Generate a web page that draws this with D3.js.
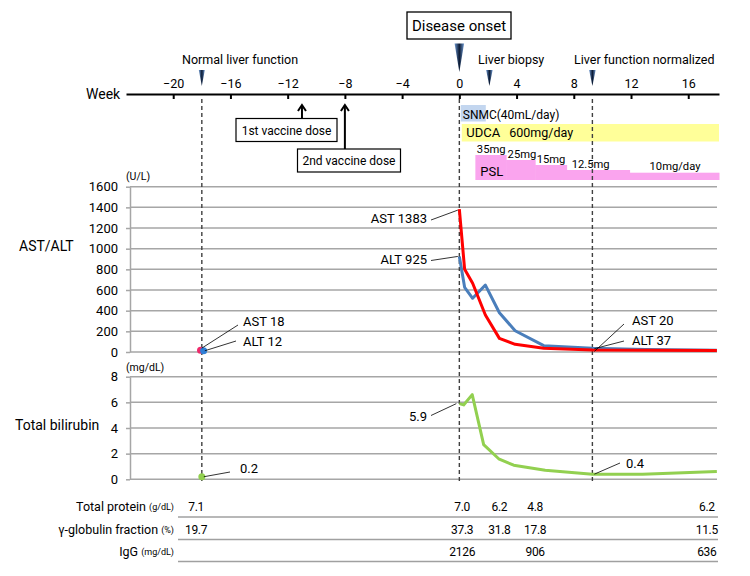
<!DOCTYPE html>
<html><head><meta charset="utf-8">
<script src="https://cdn.jsdelivr.net/npm/d3@7"></script>
<style>
body{margin:0;background:#fff;}
svg{display:block;}
text{font-family:Roboto,"Noto Sans",sans-serif;fill:#000;}
</style></head>
<body>
<script>
// ---------------- DATA ----------------
const weekTicks = [-20, -16, -12, -8, -4, 0, 4, 8, 12, 16];
const astWeeks = [0, 0.37, 0.93, 1.82, 2.8, 3.9, 5.9, 9.3, 13, 18];
const astValues = [1383, 800, 665, 358, 132, 74, 36, 20, 16, 14];
const altValues = [925, 626, 520, 648, 380, 206, 61, 37, 24, 18];
const baselineWeek = -18;
const baselineAST = 18;
const baselineALT = 12;
const bilWeeks = [0, 0.3, 0.9, 1.7, 2.75, 3.8, 6, 9.3, 12.8, 18];
const bilValues = [5.9, 5.8, 6.6, 2.7, 1.6, 1.1, 0.7, 0.4, 0.4, 0.6];
const baselineBil = 0.2;
const astTicks = [0, 200, 400, 600, 800, 1000, 1200, 1400, 1600];
const bilTicks = [0, 2, 4, 6, 8];
const events = [
  {week: -18, label: "Normal liver function"},
  {week: 0, label: "Disease onset"},
  {week: 2.1, label: "Liver biopsy"},
  {week: 9.3, label: "Liver function normalized"}
];
const vaccines = [{week: -11, label: "1st vaccine dose"}, {week: -8, label: "2nd vaccine dose"}];
const snmc = {start: 0.1, end: 1.85, label: "SNMC(40mL/day)"};
const udca = {start: 0.17, end: 18.15, label: "UDCA", dose: "600mg/day"};
const pslStarts = [1.12, 3.27, 5.3, 7.5, 11.9];
const pslEnd = 18.15;
const pslDoses = [35, 25, 15, 12.5, 10];
const pslLabels = ["35mg", "25mg", "15mg", "12.5mg", "10mg/day"];
const tableRows = ["Total protein", "γ-globulin fraction", "IgG"];
const tableUnits = ["(g/dL)", "(%)", "(mg/dL)"];
const tableWeeks = [-18.4, 0.2, 2.8, 5.3, 17.3];
const tableValues = [
  ["7.1", "7.0", "6.2", "4.8", "6.2"],
  ["19.7", "37.3", "31.8", "17.8", "11.5"],
  ["", "2126", "", "906", "636"]
];

// ---------------- LAYOUT ----------------
const W = 750, H = 576;
const svg = d3.select("body").append("svg").attr("width", W).attr("height", H);
const defs = svg.append("defs");
const grad = defs.append("linearGradient").attr("id", "mk").attr("x1", "0").attr("x2", "1").attr("y1", "0").attr("y2", "0");
grad.append("stop").attr("offset", "0%").attr("stop-color", "#6d97cf");
grad.append("stop").attr("offset", "50%").attr("stop-color", "#0b1a33");
grad.append("stop").attr("offset", "100%").attr("stop-color", "#6d97cf");

const x = d3.scaleLinear().domain([-23.3, 18.15]).range([126, 719]);
const gridL = 130, gridR = 717;
const axisY = 94;
const yA = d3.scaleLinear().domain([0, 1600]).range([352, 186.7]);
const yB = d3.scaleLinear().domain([0, 8]).range([479.3, 376.7]);

// top axis
const topAxis = d3.axisTop(x).tickValues(weekTicks).tickSize(-5).tickSizeOuter(0).tickPadding(6);
const gT = svg.append("g").attr("transform", `translate(0,${axisY})`).call(topAxis);
gT.select(".domain").attr("stroke", "#000").attr("stroke-width", 2);
gT.selectAll(".tick line").attr("stroke", "#000").attr("stroke-width", 2);
gT.selectAll(".tick text").attr("font-size", 12.5).attr("font-family", "Roboto, sans-serif").attr("fill", "#000");
svg.append("text").attr("x", 86).attr("y", 99).attr("font-size", 14).text("Week");

// grids
function panel(yS, ticks, unit, unitY, title, titleY, titleX) {
  const g = svg.append("g");
  g.selectAll("line.grid").data(ticks).join("line")
    .attr("x1", gridL).attr("x2", gridR).attr("y1", d => yS(d)).attr("y2", d => yS(d))
    .attr("stroke", "#a6a6a6").attr("stroke-width", 1.5);
  const ax = d3.axisLeft(yS).tickValues(ticks).tickFormat(d3.format("d")).tickSize(4).tickSizeOuter(0).tickPadding(8);
  const ga = g.append("g").attr("transform", `translate(${gridL},0)`).call(ax);
  ga.select(".domain").attr("stroke", "#a6a6a6").attr("stroke-width", 1.5);
  ga.selectAll(".tick line").attr("stroke", "#a6a6a6").attr("stroke-width", 1.5);
  ga.selectAll(".tick text").attr("font-size", 13).attr("font-family", "Roboto, sans-serif").attr("fill", "#000");
  g.append("text").attr("x", 126).attr("y", unitY).attr("font-size", 10.5).attr("dominant-baseline", "middle").text(unit);
  g.append("text").attr("x", titleX).attr("y", titleY).attr("font-size", 14).attr("dominant-baseline", "middle").text(title);
}
panel(yA, astTicks, "(U/L)", 177, "AST/ALT", 247.5, 19);
panel(yB, bilTicks, "(mg/dL)", 368.5, "Total bilirubin", 426, 15);

// treatment bars
svg.append("rect").attr("x", x(snmc.start)).attr("width", x(snmc.end) - x(snmc.start))
  .attr("y", 105).attr("height", 16.5).attr("fill", "#c3d6ef");
svg.append("text").attr("x", x(snmc.start) + 2).attr("y", 118.5).attr("font-size", 12).text(snmc.label);
svg.append("rect").attr("x", x(udca.start)).attr("width", x(udca.end) - x(udca.start))
  .attr("y", 124).attr("height", 17.5).attr("fill", "#ffff99");
svg.append("text").attr("x", x(udca.start) + 4.5).attr("y", 137).attr("font-size", 13).text(udca.label);
svg.append("text").attr("x", x(udca.start) + 47.5).attr("y", 137).attr("font-size", 12.5).text(udca.dose);

const pslBottom = 180;
const pslH = d3.scaleLinear().domain([10, 12.5, 15, 25, 35]).range([7.3, 10, 15, 20, 25]);
const pslData = pslStarts.map((s, i) => ({start: s, end: i < pslStarts.length - 1 ? pslStarts[i + 1] : pslEnd, dose: pslDoses[i], label: pslLabels[i]}));
svg.selectAll("rect.psl").data(pslData).join("rect")
  .attr("x", d => x(d.start)).attr("width", d => x(d.end) - x(d.start) + 0.5)
  .attr("y", d => pslBottom - pslH(d.dose)).attr("height", d => pslH(d.dose))
  .attr("fill", "#faa4ee");
const pslLabelDx = [1.5, 1.5, 1.5, 5, 20];
svg.selectAll("text.psl").data(pslData).join("text")
  .attr("x", (d, i) => x(d.start) + pslLabelDx[i]).attr("y", d => pslBottom - pslH(d.dose) - 2.5)
  .attr("font-size", 11.2).text(d => d.label);
svg.append("text").attr("x", x(pslStarts[0]) + 5).attr("y", 176).attr("font-size", 13).attr("fill", "#3a1040").text("PSL");

// dashed lines
const dashWeeks = [events[0].week, events[1].week, events[3].week];
svg.selectAll("line.dash").data(dashWeeks).join("line")
  .attr("x1", d => x(d)).attr("x2", d => x(d)).attr("y1", 99).attr("y2", 481)
  .attr("stroke", "#404040").attr("stroke-width", 1.4).attr("stroke-dasharray", "4,3");

// event markers
function marker(wk, top, w, h) {
  const cx = x(wk);
  svg.append("path").attr("d", `M${cx - w / 2},${top} L${cx + w / 2},${top} L${cx},${top + h} Z`)
    .attr("fill", "url(#mk)");
}
marker(events[0].week, 70, 6, 16);
marker(events[1].week, 43.5, 9.5, 28.5);
marker(events[2].week, 70, 6.5, 16);
marker(events[3].week, 70, 6.5, 16);
svg.append("text").attr("x", 182).attr("y", 64).attr("font-size", 12.5).text(events[0].label);
svg.append("text").attr("x", 478).attr("y", 64).attr("font-size", 12.5).text(events[2].label);
svg.append("text").attr("x", 574).attr("y", 64).attr("font-size", 12.5).text(events[3].label);
svg.append("rect").attr("x", 407).attr("y", 12).attr("width", 104).attr("height", 27)
  .attr("fill", "#fff").attr("stroke", "#000").attr("stroke-width", 1.3);
svg.append("text").attr("x", 459).attr("y", 31).attr("text-anchor", "middle").attr("font-size", 15).text(events[1].label);

// vaccine arrows
const vaxBox = [{x0: 236, y0: 118.5, w: 101}, {x0: 297.5, y0: 149, w: 103}];
vaccines.forEach((v, i) => {
  const cx = x(v.week), tip = 105, b = vaxBox[i];
  svg.append("line").attr("x1", cx).attr("x2", cx).attr("y1", tip).attr("y2", b.y0).attr("stroke", "#000").attr("stroke-width", 2);
  svg.append("path").attr("d", `M${cx - 4},${tip + 6} L${cx},${tip} L${cx + 4},${tip + 6}`)
    .attr("fill", "none").attr("stroke", "#000").attr("stroke-width", 2);
  svg.append("rect").attr("x", b.x0).attr("y", b.y0).attr("width", b.w).attr("height", 23)
    .attr("fill", "#fff").attr("stroke", "#000").attr("stroke-width", 1.2);
  svg.append("text").attr("x", b.x0 + b.w / 2).attr("y", b.y0 + 16).attr("text-anchor", "middle").attr("font-size", 12).text(v.label);
});

// lines
const lineA = d3.line().x(d => x(d[0])).y(d => yA(d[1]));
const lineB = d3.line().x(d => x(d[0])).y(d => yB(d[1]));
svg.append("path").datum(astWeeks.map((w, i) => [w, altValues[i]])).attr("d", lineA)
  .attr("fill", "none").attr("stroke", "#4a7ebb").attr("stroke-width", 3).attr("stroke-linejoin", "round");
svg.append("path").datum(astWeeks.map((w, i) => [w, astValues[i]])).attr("d", lineA)
  .attr("fill", "none").attr("stroke", "#ff0000").attr("stroke-width", 3).attr("stroke-linejoin", "round");
svg.append("path").datum(bilWeeks.map((w, i) => [w, bilValues[i]])).attr("d", lineB)
  .attr("fill", "none").attr("stroke", "#92d050").attr("stroke-width", 3).attr("stroke-linejoin", "round");

// baseline dots
svg.append("circle").attr("cx", x(baselineWeek) - 1.3).attr("cy", yA(baselineAST)).attr("r", 3.5).attr("fill", "#ee2a6a");
svg.append("circle").attr("cx", x(baselineWeek) + 1.8).attr("cy", yA(baselineALT)).attr("r", 3.5).attr("fill", "#2f7fd6");
svg.append("circle").attr("cx", x(baselineWeek)).attr("cy", yB(baselineBil)).attr("r", 3.5).attr("fill", "#92d050");

// annotations
function annot(px, py, lx, ly, tx, ty, anchor, txt) {
  svg.append("line").attr("x1", px).attr("y1", py).attr("x2", lx).attr("y2", ly).attr("stroke", "#000").attr("stroke-width", 0.8);
  svg.append("text").attr("x", tx).attr("y", ty).attr("text-anchor", anchor).attr("dominant-baseline", "middle")
    .attr("font-size", 13).text(txt);
}
annot(x(astWeeks[0]) - 1.5, yA(astValues[0]) + 1, 431, 220, 427, 219.5, "end", "AST " + astValues[0]);
annot(x(astWeeks[0]) - 1.5, yA(altValues[0]), 431, 260.5, 427, 261, "end", "ALT " + altValues[0]);
annot(x(astWeeks[7]) + 2, yA(astValues[7]) + 1.5, 624, 324, 632, 321.5, "start", "AST " + astValues[7]);
annot(x(astWeeks[7]) + 2, yA(altValues[7]) + 0.5, 624, 341, 632, 342, "start", "ALT " + altValues[7]);
annot(x(baselineWeek), yA(baselineAST) - 2, 238, 325, 243, 322.5, "start", "AST " + baselineAST);
annot(x(baselineWeek) + 3, yA(baselineALT), 236, 341, 243, 342.5, "start", "ALT " + baselineALT);
annot(x(baselineWeek) + 2, yB(baselineBil), 230, 472, 240, 470, "start", String(baselineBil));
annot(x(bilWeeks[0]) - 3, yB(bilValues[0]), 431, 415.5, 427, 418, "end", String(bilValues[0]));
annot(x(bilWeeks[7]) + 2, yB(bilValues[7]), 620, 463, 626, 465, "start", String(bilValues[7]));

// table
const rowY = [508, 530.5, 552.5];
const tbl = svg.append("g");
tableRows.forEach((r, i) => {
  const t = tbl.append("text").attr("x", 174).attr("y", rowY[i]).attr("text-anchor", "end").attr("dominant-baseline", "middle").attr("font-size", 12.5);
  t.append("tspan").text(r + " ");
  t.append("tspan").attr("font-size", 9).text(tableUnits[i]);
  tbl.append("line").attr("x1", 178).attr("x2", 718).attr("y1", rowY[i] + 9).attr("y2", rowY[i] + 9)
    .attr("stroke", "#a0a0a0").attr("stroke-width", 1.3);
  tbl.selectAll(null).data(tableValues[i].map((v, j) => ({v, w: tableWeeks[j]})).filter(d => d.v)).join("text")
    .attr("x", d => x(d.w)).attr("y", rowY[i]).attr("text-anchor", "middle")
    .attr("dominant-baseline", "middle").attr("font-size", 12).attr("letter-spacing", -0.3).text(d => d.v);
});
</script>
</body></html>
